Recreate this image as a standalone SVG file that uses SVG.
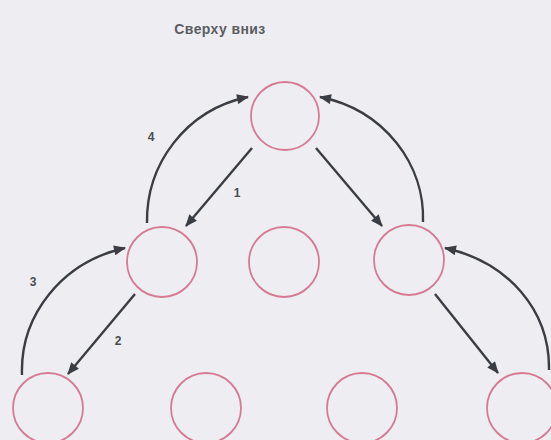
<svg xmlns="http://www.w3.org/2000/svg" width="551" height="440" viewBox="0 0 551 440">
<defs>
<style>
.node{fill:none;stroke:#d67a93;stroke-width:1.8}
.edge{fill:none;stroke:#3b3d44;stroke-width:2.4}
.lbl{font-family:"Liberation Sans",Arial,sans-serif;font-weight:bold;font-size:12px;fill:#4a4c52}
.title{font-family:"Liberation Sans",Arial,sans-serif;font-weight:bold;font-size:14px;letter-spacing:0.4px;fill:#5a5c62}
</style>
<marker id="ah" viewBox="0 0 12 10" refX="11" refY="5" markerWidth="13" markerHeight="10" markerUnits="userSpaceOnUse" orient="auto">
<path d="M0,0 L12,5 L0,10 Z" fill="#3b3d44"/>
</marker>
</defs>
<rect width="551" height="440" fill="#eeeef2"/>
<text class="title" x="220" y="34" text-anchor="middle">Сверху вниз</text>
<g id="n_top"><circle class="node" cx="285" cy="116" r="34"/></g>
<g id="n_ml"><circle class="node" cx="162" cy="262" r="35"/></g>
<g id="n_mc"><circle class="node" cx="284" cy="262" r="35"/></g>
<g id="n_mr"><circle class="node" cx="409" cy="260" r="35"/></g>
<g id="n_b1"><circle class="node" cx="48" cy="408" r="35"/></g>
<g id="n_b2"><circle class="node" cx="206" cy="408" r="35"/></g>
<g id="n_b3"><circle class="node" cx="362" cy="408" r="35"/></g>
<g id="n_b4"><circle class="node" cx="522" cy="408" r="35"/></g>
<g id="edges">
<path class="edge" marker-end="url(#ah)" d="M252,148 L186,226"/>
<path class="edge" marker-end="url(#ah)" d="M147,223 C146,165 185,110 248,97"/>
<path class="edge" marker-end="url(#ah)" d="M135,294 L68,374"/>
<path class="edge" marker-end="url(#ah)" d="M22,375 C20,315 62,262 125,248"/>
<path class="edge" marker-end="url(#ah)" d="M316,148 L382,226"/>
<path class="edge" marker-end="url(#ah)" d="M423,222 C425,165 385,110 320,97"/>
<path class="edge" marker-end="url(#ah)" d="M435,294 L498,373"/>
<path class="edge" marker-end="url(#ah)" d="M549,370 C550,310 508,262 445,248"/>
</g>
<text class="lbl" x="237" y="197" text-anchor="middle">1</text>
<text class="lbl" x="118" y="345" text-anchor="middle">2</text>
<text class="lbl" x="33" y="286" text-anchor="middle">3</text>
<text class="lbl" x="151" y="141" text-anchor="middle">4</text>
</svg>
